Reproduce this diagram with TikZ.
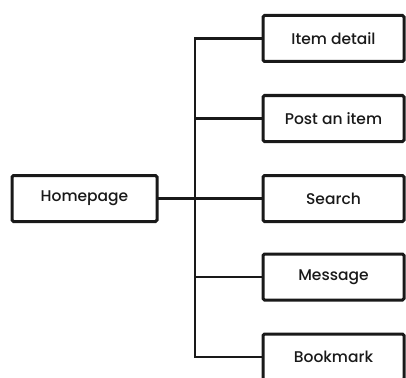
\documentclass[tikz,border=0pt]{standalone}
\usepackage{fontspec}
\setmainfont{Poppins}[UprightFont={* Medium}]
\begin{document}
\begin{tikzpicture}[x=1pt,y=-1pt,
  box/.style={draw=black!90, line width=3pt, fill=white, rounded corners=1.5pt,
    inner sep=0pt, font=\fontsize{15.5}{17}\selectfont, text=black!90},
  link/.style={draw=black!90, line width=2.6pt, line cap=rect}]
\useasboundingbox (0,0) rectangle (406,377);
\node[box, minimum width=145pt, minimum height=46pt] (home) at (84.5,198.5) {Homepage};
\node[box, minimum width=141pt, minimum height=46pt] (n1) at (333.5,38.5) {Item detail};
\node[box, minimum width=141pt, minimum height=46pt] (n2) at (333.5,118.5) {Post an item};
\node[box, minimum width=141pt, minimum height=46pt] (n3) at (333.5,198.5) {Search};
\node[box, minimum width=141pt, minimum height=46pt] (n4) at (333.5,277) {Message};
\node[box, minimum width=141pt, minimum height=46pt] (n5) at (333.5,357) {Bookmark};
\coordinate (tr) at (195,198);
\draw[link] (n1.west) -| (tr) |- (n5.west);
\draw[link] (home.east) -- (n3.west);
\draw[link] (tr |- n2.west) -- (n2.west);
\draw[link] (tr |- n4.west) -- (n4.west);
\end{tikzpicture}
\end{document}
